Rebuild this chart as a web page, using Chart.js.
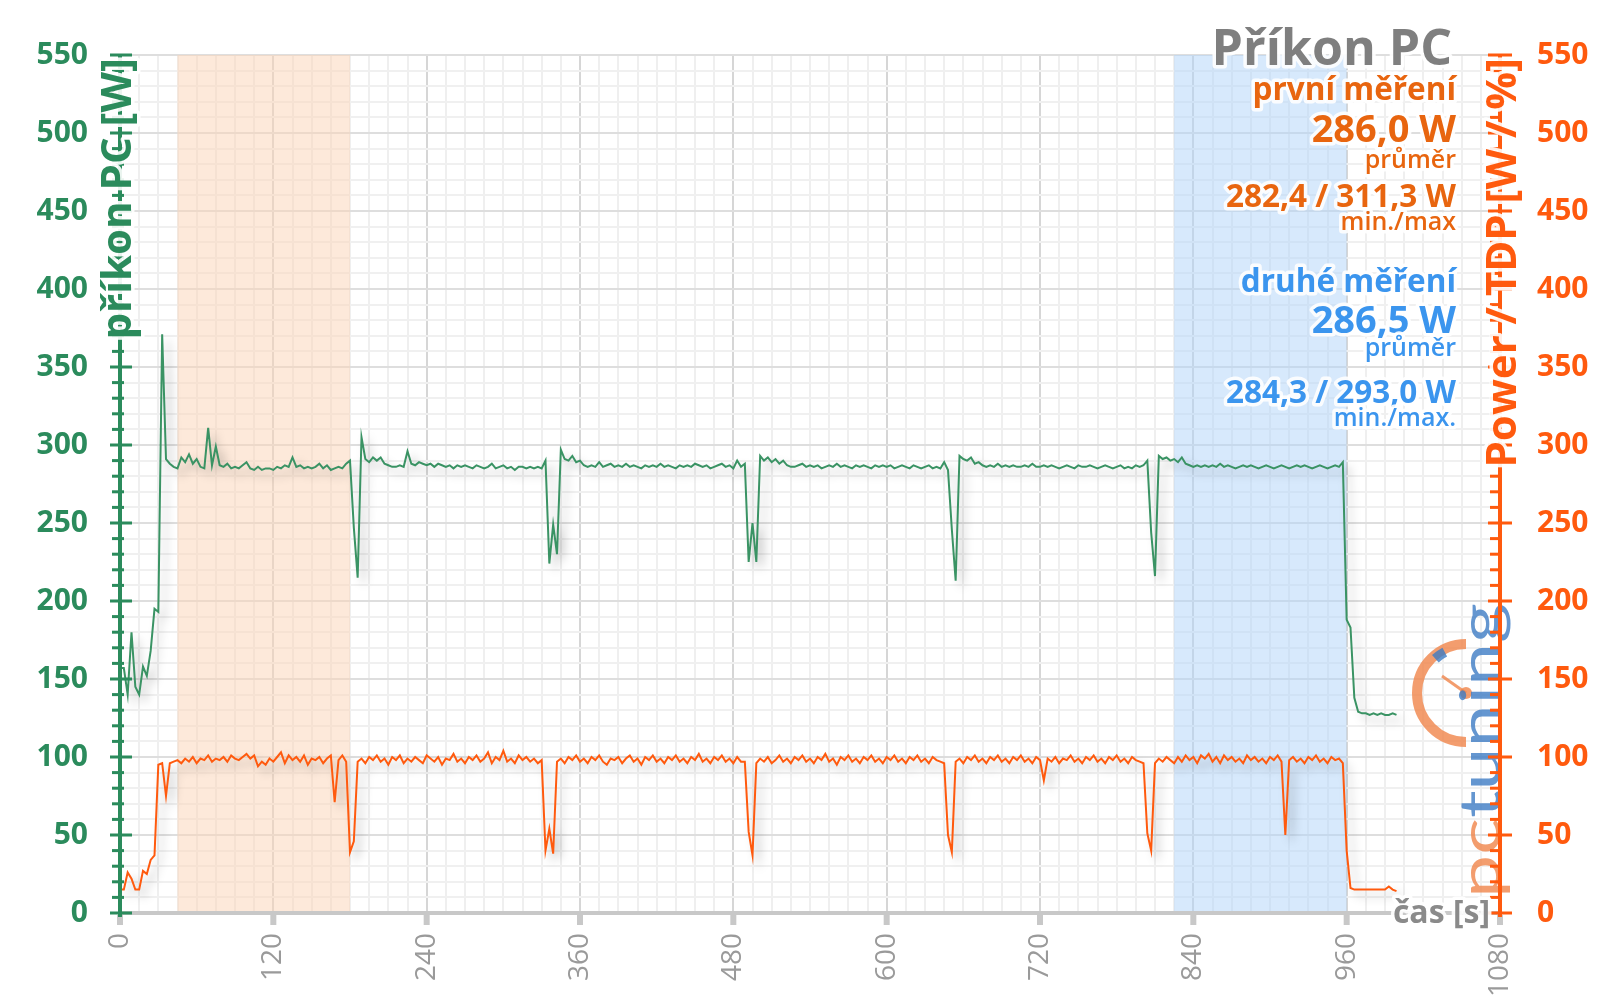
<!DOCTYPE html>
<html>
<head>
<meta charset="utf-8">
<title>Příkon PC</title>
<script src="https://cdn.jsdelivr.net/npm/chart.js@4.4.1/dist/chart.umd.min.js"></script>
<style>
    html, body { margin: 0; padding: 0; background: #fff; }
    canvas { display: block; }
</style>
</head>
<body>
<canvas id="myChart" width="1600" height="1008"></canvas>
<script>
// one sample every 3 s, first sample at 0 s
const sampleStep = 3;

// příkon PC [W] (green line, left axis)
const pcPower = [
    157, 157, 140, 180, 145, 140, 158, 152, 168, 195,
    193, 371, 291, 288, 286, 285, 292, 289, 294, 288,
    291, 286, 285, 311, 287, 299, 287, 286, 288, 285,
    286, 285, 287, 289, 285, 284, 286, 284, 285, 285,
    284, 286, 285, 287, 286, 292, 286, 287, 285, 286,
    285, 286, 288, 285, 287, 284, 285, 286, 285, 288,
    290, 247, 215, 305, 291, 289, 292, 290, 292, 288,
    287, 286, 286, 287, 286, 296, 288, 287, 289, 288,
    287, 288, 286, 288, 287, 286, 287, 285, 287, 286,
    287, 286, 285, 287, 286, 285, 286, 288, 285, 286,
    287, 285, 286, 284, 286, 286, 285, 286, 285, 286,
    285, 290, 224, 249, 230, 297, 291, 290, 293, 289,
    290, 287, 286, 287, 286, 289, 286, 287, 288, 286,
    287, 286, 288, 286, 287, 286, 285, 287, 286, 287,
    286, 288, 286, 287, 286, 285, 287, 286, 287, 286,
    288, 287, 286, 287, 285, 286, 287, 288, 286, 287,
    285, 290, 286, 288, 225, 250, 225, 293, 290, 292,
    289, 291, 288, 290, 287, 286, 286, 287, 288, 286,
    287, 286, 287, 285, 286, 287, 286, 288, 286, 287,
    286, 285, 287, 286, 287, 286, 285, 287, 286, 287,
    286, 287, 285, 286, 287, 286, 285, 287, 286, 285,
    286, 287, 285, 286, 285, 289, 284, 246, 213, 293,
    291, 290, 292, 288, 289, 287, 286, 287, 286, 288,
    286, 287, 286, 287, 286, 286, 287, 286, 288, 286,
    286, 287, 286, 287, 286, 285, 286, 287, 286, 285,
    287, 286, 286, 287, 286, 285, 286, 287, 286, 285,
    286, 287, 285, 286, 285, 287, 286, 287, 290, 244,
    216, 293, 291, 292, 290, 291, 289, 292, 288, 287,
    286, 287, 286, 287, 286, 287, 286, 288, 286, 287,
    286, 285, 286, 287, 286, 287, 286, 285, 286, 287,
    286, 285, 286, 287, 286, 285, 286, 287, 286, 287,
    286, 285, 286, 287, 286, 285, 286, 287, 286, 289,
    188, 183, 138, 129, 128, 128, 127, 128, 127, 128,
    127, 127, 128, 127
];

// Power / TDP [W / %] (orange line, right axis)
const cpuPower = [
    15, 15, 26, 22, 15, 15, 27, 25, 34, 37,
    95, 96, 75, 96, 97, 98, 96, 99, 97, 100,
    96, 99, 98, 101, 97, 99, 98, 100, 97, 101,
    99, 98, 100, 102, 99, 101, 94, 97, 95, 99,
    97, 100, 103, 96, 101, 98, 100, 97, 101, 95,
    99, 98, 100, 96, 99, 101, 71, 98, 101, 97,
    39, 46, 97, 99, 96, 100, 98, 101, 97, 99,
    95, 100, 98, 101, 96, 99, 97, 100, 98, 96,
    101, 99, 97, 100, 95, 99, 98, 102, 97, 99,
    96, 100, 98, 101, 97, 99, 103, 96, 100, 98,
    104, 97, 99, 96, 101, 98, 100, 97, 99, 96,
    98, 40, 54, 38, 97, 99, 96, 100, 98, 101,
    97, 99, 96, 100, 98, 101, 97, 95, 99, 98,
    100, 96, 99, 101, 97, 99, 95, 100, 98, 101,
    97, 99, 96, 100, 98, 101, 97, 99, 96, 100,
    98, 102, 97, 99, 96, 100, 98, 101, 97, 99,
    96, 100, 97, 97, 52, 37, 96, 99, 97, 100,
    96, 98, 101, 97, 99, 96, 100, 98, 101, 97,
    99, 96, 100, 98, 102, 97, 99, 95, 100, 98,
    101, 97, 99, 96, 100, 98, 101, 97, 99, 96,
    100, 98, 101, 97, 99, 96, 100, 98, 101, 97,
    99, 96, 100, 98, 97, 96, 50, 39, 97, 99,
    96, 100, 98, 101, 97, 99, 96, 100, 98, 101,
    97, 99, 96, 100, 98, 101, 97, 99, 96, 100,
    98, 85, 99, 97, 100, 96, 99, 98, 101, 97,
    99, 96, 100, 98, 101, 97, 99, 96, 100, 98,
    101, 97, 99, 96, 100, 98, 97, 96, 51, 40,
    96, 99, 97, 100, 98, 96, 100, 97, 101, 98,
    100, 96, 101, 99, 102, 97, 100, 96, 101, 98,
    100, 97, 99, 96, 101, 98, 100, 97, 99, 96,
    100, 98, 101, 97, 50, 98, 100, 97, 99, 96,
    100, 98, 101, 97, 99, 96, 100, 98, 99, 96,
    40, 16, 15, 15, 15, 15, 15, 15, 15, 15,
    15, 17, 15, 14
];

// labelled ticks
const timeTicks = [0, 120, 240, 360, 480, 600, 720, 840, 960, 1080];
const powerTicks = [0, 50, 100, 150, 200, 250, 300, 350, 400, 450, 500, 550];

// shaded measuring windows [s]
const firstRun = [45, 180];
const secondRun = [825, 960];

// texts in the top right corner
const chartTitle = 'Příkon PC';
const firstRunText = ['první měření', '286,0 W', 'průměr', '282,4 / 311,3 W', 'min./max'];
const secondRunText = ['druhé měření', '286,5 W', 'průměr', '284,3 / 293,0 W', 'min./max.'];

const GREEN = '#2b8b5c';
const GREEN_LINE = '#3a9364';
const ORANGE = '#ff5a0e';
const ORANGE_TEXT = '#e8650f';
const BLUE = '#3b95ee';
const GREY = '#8a8a8a';
const FONT = '"Open Sans", "DejaVu Sans", sans-serif';

function glowText(ctx, text, x, y, font, color) {
    ctx.font = font;
    ctx.lineJoin = 'round';
    ctx.lineWidth = 7;
    ctx.strokeStyle = 'rgba(255, 255, 255, 0.9)';
    ctx.strokeText(text, x, y);
    ctx.fillStyle = color;
    ctx.fillText(text, x, y);
}

function drawLogo(ctx) {
    ctx.save();
    ctx.globalAlpha = 0.8;
    // gauge
    ctx.strokeStyle = '#f0844a';
    ctx.lineWidth = 10;
    ctx.beginPath();
    ctx.arc(1466, 693, 49, -Math.PI / 2, Math.PI / 2, true);
    ctx.stroke();
    ctx.strokeStyle = '#3d7cc4';
    ctx.beginPath();
    ctx.arc(1466, 693, 46, -2.3, -2.05);
    ctx.stroke();
    ctx.strokeStyle = '#f0844a';
    ctx.lineWidth = 3;
    ctx.beginPath();
    ctx.moveTo(1466, 693);
    ctx.lineTo(1442, 676);
    ctx.stroke();
    ctx.fillStyle = '#f0844a';
    ctx.beginPath();
    ctx.arc(1466, 693, 6, 0, Math.PI * 2);
    ctx.fill();

    // "pctuning" written upwards
    ctx.translate(1500, 898);
    ctx.rotate(-Math.PI / 2);
    ctx.font = '56px Lato, sans-serif';
    ctx.textBaseline = 'alphabetic';
    ctx.textAlign = 'left';
    const wPc = ctx.measureText('pc').width;
    const wAll = ctx.measureText('pctuning').width;
    ctx.scale(295 / wAll, 1);
    ctx.fillStyle = '#f0844a';
    ctx.fillText('pc', 0, 0);
    ctx.fillStyle = '#3d7cc4';
    ctx.fillText('tuning', wPc, 0);
    ctx.restore();
}

const decorations = {
    id: 'decorations',
    beforeDatasetsDraw(chart) {
        const { ctx, chartArea: a, scales: { x } } = chart;
        ctx.save();
        const x1 = x.getPixelForValue(firstRun[0]), x2 = x.getPixelForValue(firstRun[1]);
        ctx.fillStyle = 'rgba(252, 212, 182, 0.5)';
        ctx.fillRect(x1, a.top, x2 - x1, a.bottom - a.top);
        const x3 = x.getPixelForValue(secondRun[0]), x4 = x.getPixelForValue(secondRun[1]);
        ctx.fillStyle = 'rgba(175, 212, 250, 0.5)';
        ctx.fillRect(x3, a.top, x4 - x3, a.bottom - a.top);
        ctx.restore();
        // soft shadow under the lines
        ctx.save();
        ctx.shadowColor = 'rgba(0, 0, 0, 0.25)';
        ctx.shadowBlur = 10;
        ctx.shadowOffsetX = 6;
        ctx.shadowOffsetY = 6;
    },
    afterDatasetsDraw(chart) {
        chart.ctx.restore();
        drawLogo(chart.ctx);
    },
    afterDraw(chart) {
        const { ctx, chartArea: a, scales: { x, y, y1 } } = chart;
        ctx.save();

        // x axis line + ticks
        ctx.fillStyle = '#c8c8c8';
        ctx.fillRect(a.left, a.bottom - 2, a.right - a.left, 4);
        timeTicks.forEach(v => {
            const px = x.getPixelForValue(v);
            ctx.fillRect(px - 3, a.bottom + 2, 6, 10);
        });

        // left axis
        ctx.fillStyle = GREEN;
        ctx.fillRect(a.left - 2, a.top, 4, a.bottom - a.top + 4);
        y.ticks.forEach(t => {
            const py = y.getPixelForValue(t.value);
            if (powerTicks.includes(t.value)) ctx.fillRect(a.left - 10, py - 1.5, 22, 3);
            else ctx.fillRect(a.left - 8, py - 1.5, 12, 3);
        });

        // right axis
        ctx.fillStyle = ORANGE;
        ctx.fillRect(a.right - 2, a.top, 4, a.bottom - a.top + 4);
        y1.ticks.forEach(t => {
            const py = y1.getPixelForValue(t.value);
            if (powerTicks.includes(t.value)) ctx.fillRect(a.right - 12, py - 1.5, 24, 3);
            else ctx.fillRect(a.right - 10, py - 1.5, 12, 3);
        });

        // axis titles
        ctx.textBaseline = 'alphabetic';
        ctx.save();
        ctx.translate(131, 58);
        ctx.rotate(-Math.PI / 2);
        ctx.textAlign = 'right';
        glowText(ctx, 'příkon PC [W]', 0, 0, `bold 42px ${FONT}`, GREEN);
        ctx.restore();

        ctx.save();
        ctx.translate(1516, 58);
        ctx.rotate(-Math.PI / 2);
        ctx.textAlign = 'right';
        glowText(ctx, 'Power / TDP [W / %]', 0, 0, `bold 42px ${FONT}`, ORANGE);
        ctx.restore();

        ctx.textAlign = 'right';
        glowText(ctx, 'čas [s]', 1490, 923, `bold 32px ${FONT}`, GREY);

        // title and summary
        glowText(ctx, chartTitle, 1452, 65, `bold 50px ${FONT}`, '#7f7f7f');
        const fonts = [`bold 31.5px ${FONT}`, `bold 38px ${FONT}`, `600 25px ${FONT}`, `bold 31.5px ${FONT}`, `600 25px ${FONT}`];
        const firstY = [100, 142, 168, 207, 230];
        const secondY = [292, 333, 356, 403, 426];
        firstRunText.forEach((s, i) => glowText(ctx, s, 1456, firstY[i], fonts[i], ORANGE_TEXT));
        secondRunText.forEach((s, i) => glowText(ctx, s, 1456, secondY[i], fonts[i], BLUE));

        ctx.restore();
    }
};

function createChart() {
    const ctx = document.getElementById('myChart');
    const toPoints = arr => arr.map((v, i) => ({ x: i * sampleStep, y: v }));

    new Chart(ctx, {
        type: 'line',
        data: {
            datasets: [{
                label: 'příkon PC',
                data: toPoints(pcPower),
                yAxisID: 'y',
                borderColor: GREEN_LINE,
                borderWidth: 2,
                pointRadius: 0,
                tension: 0
            }, {
                label: 'Power / TDP',
                data: toPoints(cpuPower),
                yAxisID: 'y1',
                borderColor: ORANGE,
                borderWidth: 2,
                pointRadius: 0,
                tension: 0
            }]
        },
        options: {
            responsive: false,
            animation: false,
            devicePixelRatio: 1,
            layout: { padding: { top: 54, left: 0, right: 0, bottom: 0 } },
            plugins: {
                legend: { display: false },
                tooltip: { enabled: false }
            },
            scales: {
                x: {
                    type: 'linear',
                    min: 0,
                    max: 1080,
                    afterFit: s => { s.height = 95; },
                    border: { display: false },
                    grid: {
                        drawTicks: false,
                        lineWidth: 2,
                        color: c => (c.tick && timeTicks.includes(c.tick.value)) ? '#d6d6d6' : '#efefef'
                    },
                    ticks: {
                        stepSize: 15,
                        autoSkip: false,
                        minRotation: 90,
                        maxRotation: 90,
                        padding: 20,
                        color: '#9a9a9a',
                        font: { family: FONT, size: 28 },
                        callback: v => timeTicks.includes(v) ? v : ''
                    }
                },
                y: {
                    position: 'left',
                    min: 0,
                    max: 550,
                    afterFit: s => { s.width = 120; },
                    border: { display: false },
                    grid: {
                        drawTicks: false,
                        lineWidth: 2,
                        color: c => (c.tick && powerTicks.includes(c.tick.value)) ? '#dedede' : '#f0f0f0'
                    },
                    ticks: {
                        stepSize: 10,
                        autoSkip: false,
                        padding: 32,
                        color: GREEN,
                        font: { family: FONT, size: 30, weight: 'bold' },
                        callback: v => powerTicks.includes(v) ? v : ''
                    }
                },
                y1: {
                    position: 'right',
                    min: 0,
                    max: 550,
                    afterFit: s => { s.width = 100; },
                    border: { display: false },
                    grid: { drawOnChartArea: false, drawTicks: false },
                    ticks: {
                        stepSize: 10,
                        autoSkip: false,
                        padding: 37,
                        color: ORANGE,
                        font: { family: FONT, size: 30, weight: 'bold' },
                        callback: v => powerTicks.includes(v) ? v : ''
                    }
                }
            }
        },
        plugins: [decorations]
    });
}
createChart();
</script>
</body>
</html>
